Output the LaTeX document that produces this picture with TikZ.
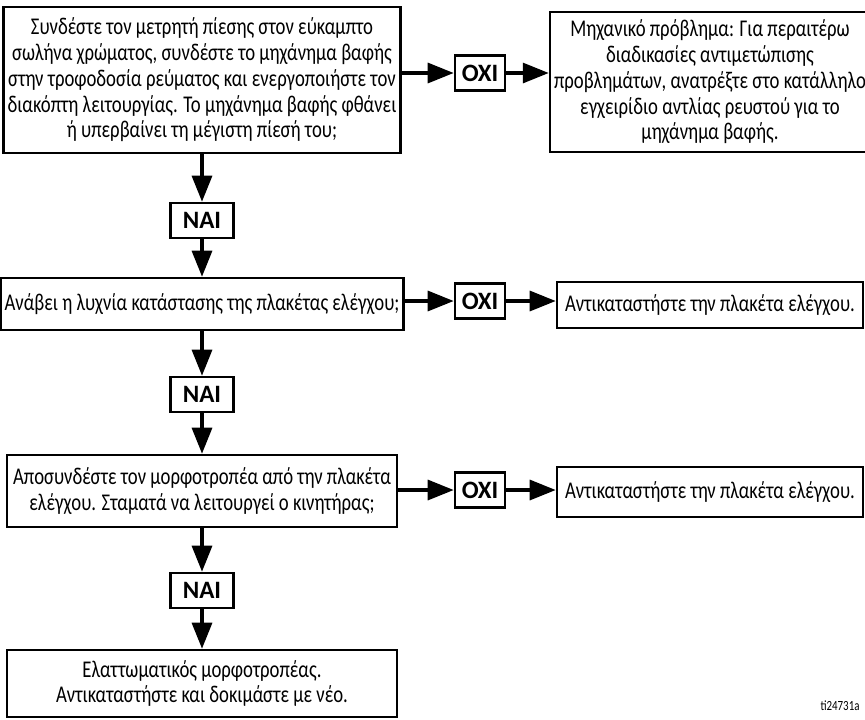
\documentclass[tikz,border=0pt]{standalone}
\usepackage{fontspec}
\setmainfont{Carlito}[FakeStretch=0.78]
\newfontfamily\respfont{Carlito}
\usetikzlibrary{arrows.meta,positioning}

\tikzset{
  caja/.style={draw,line width=1.3pt,align=center,inner sep=2pt,
    font=\fontsize{12}{12.9}\selectfont},
  resp/.style={draw,line width=1.3pt,font=\respfont\bfseries\fontsize{12.5}{13}\selectfont,
    minimum width=25pt,minimum height=17.5pt,inner sep=0pt},
  si/.style={resp,minimum width=31.5pt},
  flecha/.style={line width=1.6pt,-{Triangle[length=13pt,width=10pt]}}
}

\begin{document}
\begin{tikzpicture}[x=0.5pt,y=-0.5pt]
  \useasboundingbox (0,0) rectangle (865,719);

  % preguntas (columna izquierda)
  \node[caja,minimum width=195pt,minimum height=73pt] (p1) at (202,80)
    {Συνδέστε τον μετρητή πίεσης στον εύκαμπτο\\
     σωλήνα χρώματος, συνδέστε το μηχάνημα βαφής\\
     στην τροφοδοσία ρεύματος και ενεργοποιήστε τον\\
     διακόπτη λειτουργίας. Το μηχάνημα βαφής φθάνει\\
     ή υπερβαίνει τη μέγιστη πίεσή του;};
  \node[caja,minimum width=195pt,minimum height=26pt] (p2) at (202,304)
    {Ανάβει η λυχνία κατάστασης της πλακέτας ελέγχου;};
  \node[caja,minimum width=195pt,minimum height=36pt] (p3) at (202,491)
    {Αποσυνδέστε τον μορφοτροπέα από την πλακέτα\\
     ελέγχου. Σταματά να λειτουργεί ο κινητήρας;};
  \node[caja,minimum width=195pt,minimum height=33.5pt] (p4) at (202,683.5)
    {Ελαττωματικός μορφοτροπέας.\\
     Αντικαταστήστε και δοκιμάστε με νέο.};

  % respuestas
  \node[si] (n1) at (202,220.5) {NAI};
  \node[si] (n2) at (202,394.5) {NAI};
  \node[si] (n3) at (202,590.5) {NAI};
  \node[resp] (o1) at (480,73) {OXI};
  \node[resp] (o2) at (480,301) {OXI};
  \node[resp] (o3) at (480,490) {OXI};

  % acciones (columna derecha)
  \node[caja,minimum width=153pt,minimum height=70pt] (r1) at (710,82)
    {Μηχανικό πρόβλημα: Για περαιτέρω\\
     διαδικασίες αντιμετώπισης\\
     προβλημάτων, ανατρέξτε στο κατάλληλο\\
     εγχειρίδιο αντλίας ρευστού για το\\
     μηχάνημα βαφής.};
  \node[caja,minimum width=153pt,minimum height=23pt] (r2) at (710,305)
    {Αντικαταστήστε την πλακέτα ελέγχου.};
  \node[caja,minimum width=153pt,minimum height=25pt] (r3) at (710,492)
    {Αντικαταστήστε την πλακέτα ελέγχου.};

  % flechas verticales
  \draw[flecha] (p1) -- (n1);
  \draw[flecha] (n1) -- (p2);
  \draw[flecha] (p2) -- (n2);
  \draw[flecha] (n2) -- (p3);
  \draw[flecha] (p3) -- (n3);
  \draw[flecha] (n3) -- (p4);

  % flechas horizontales
  \draw[flecha] (p1.east |- o1) -- (o1);
  \draw[flecha] (o1) -- (o1 -| r1.west);
  \draw[flecha] (p2.east |- o2) -- (o2);
  \draw[flecha] (o2) -- (o2 -| r2.west);
  \draw[flecha] (p3.east |- o3) -- (o3);
  \draw[flecha] (o3) -- (o3 -| r3.west);

  \node[font=\fontsize{7}{8}\selectfont] (ref) at (840,706) {ti24731a};
\end{tikzpicture}
\end{document}
